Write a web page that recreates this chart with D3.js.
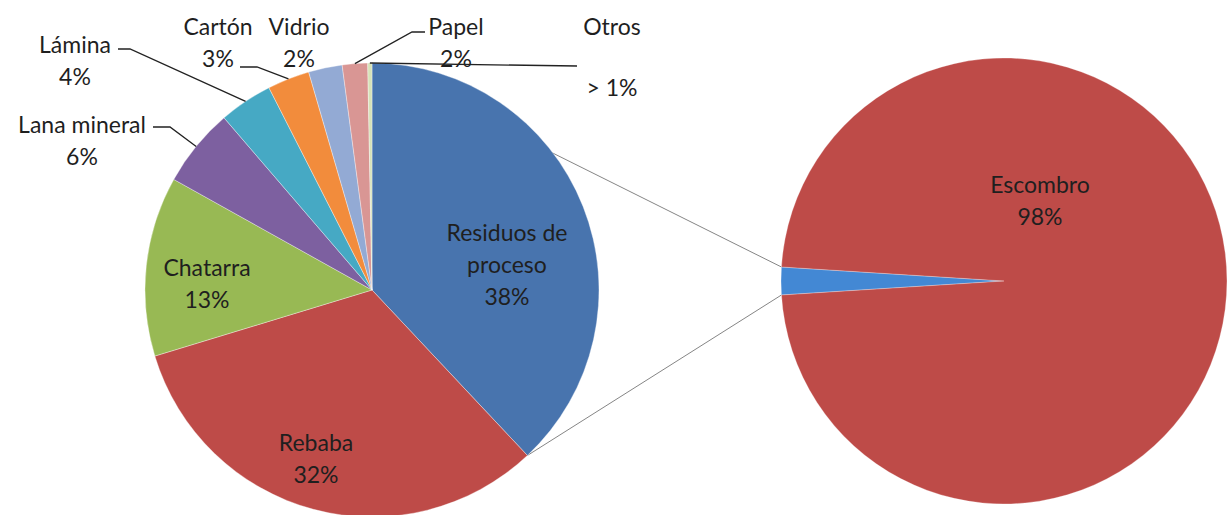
<!DOCTYPE html>
<html>
<head>
<meta charset="utf-8">
<script src="https://cdn.jsdelivr.net/npm/d3@7"></script>
<style>
    body { margin: 0; background: #fff; }
    svg { display: block; font-family: Lato, "Open Sans", sans-serif; }
</style>
</head>
<body>
<div id="chart"></div>
<script>
// main pie
const categories = ["Residuos de proceso", "Rebaba", "Chatarra", "Lana mineral", "Lámina", "Cartón", "Vidrio", "Papel", "Otros"];
const values = [38.0, 32.3, 12.8, 5.6, 3.8, 3.0, 2.4, 1.8, 0.3];
const pctLabels = ["38%", "32%", "13%", "6%", "4%", "3%", "2%", "2%", "> 1%"];

// breakdown of "Residuos de proceso"
const subCategories = ["Otro", "Escombro"];
const subValues = [2, 98];
const subLabels = ["", "98%"];

const colors = ["#4874AE", "#BE4B48", "#98B954", "#7D60A0", "#46A9C4", "#F28C3C", "#93AAD4", "#D99694", "#D6E2B8"];
const subColors = ["#4388D4", "#BE4B48"];

const width = 1228, height = 515;
const main = { cx: 372, cy: 290, r: 227 };
const sub = { cx: 1004, cy: 281, r: 223 };

const svg = d3.select("#chart").append("svg")
    .attr("width", width)
    .attr("height", height);

const data = categories.map((name, i) => ({ name, value: values[i], pct: pctLabels[i], color: colors[i] }));
const subData = subCategories.map((name, i) => ({ name, value: subValues[i], pct: subLabels[i], color: subColors[i] }));

const pie = d3.pie().sort(null).value(d => d.value);
const arcs = pie(data);

// the small slice of the second pie faces the first pie (9 o'clock)
const half = Math.PI * subValues[0] / 100;
const subPie = d3.pie().sort(null).value(d => d.value)
    .startAngle(1.5 * Math.PI - half)
    .endAngle(3.5 * Math.PI - half);
const subArcs = subPie(subData);

const arc = d3.arc().innerRadius(0).outerRadius(main.r);
const subArc = d3.arc().innerRadius(0).outerRadius(sub.r);

const polar = (c, a, r) => [c.cx + r * Math.sin(a), c.cy - r * Math.cos(a)];

// connector lines between the pies
const linked = arcs[0];
const smallSlice = subArcs[0];
const connectors = [
    [polar(main, linked.startAngle, main.r), polar(sub, smallSlice.endAngle, sub.r)],
    [polar(main, linked.endAngle, main.r), polar(sub, smallSlice.startAngle, sub.r)]
];
svg.append("g").selectAll("line")
    .data(connectors)
    .join("line")
    .attr("x1", d => d[0][0]).attr("y1", d => d[0][1])
    .attr("x2", d => d[1][0]).attr("y2", d => d[1][1])
    .attr("stroke", "#777")
    .attr("stroke-width", 0.9);

const gMain = svg.append("g").attr("transform", `translate(${main.cx},${main.cy})`);
gMain.selectAll("path")
    .data(arcs)
    .join("path")
    .attr("d", arc)
    .attr("fill", d => d.data.color)
    .attr("stroke", "#fff")
    .attr("stroke-opacity", 0.5)
    .attr("stroke-width", 0.7);

const gSub = svg.append("g").attr("transform", `translate(${sub.cx},${sub.cy})`);
gSub.selectAll("path")
    .data(subArcs)
    .join("path")
    .attr("d", subArc)
    .attr("fill", d => d.data.color)
    .attr("stroke", "#fff")
    .attr("stroke-opacity", 0.4)
    .attr("stroke-width", 0.7);

// label placement, relative to the pie centre
const lineH = 32;
const inside = {
    "Residuos de proceso": { x: 135, y: -25, lines: ["Residuos de", "proceso"] },
    "Rebaba": { x: -56, y: 169 },
    "Chatarra": { x: -165, y: -6 }
};
const outside = {
    "Lana mineral": { x: -290, y: -149, elbow: [-202, -163], end: [-219, -163] },
    "Lámina": { x: -297, y: -229, elbow: [-242, -241], end: [-254, -241] },
    "Cartón": { x: -154, y: -247, elbow: [-115, -223], end: [-132, -223] },
    "Vidrio": { x: -73, y: -247 },
    "Papel": { x: 84, y: -247, elbow: [40, -258], end: [53, -258] },
    "Otros": { x: 240, y: -233, gap: 61, elbow: [205, -224], end: [205, -224] }
};

const textColor = "#1f1f1f";
const fontSize = 23;

function addLabel(g, x, y, lines, gap) {
    const n = lines.length;
    const t = g.append("text")
        .attr("text-anchor", "middle")
        .attr("font-size", fontSize)
        .attr("fill", textColor);
    lines.forEach((s, i) => {
        t.append("tspan")
            .attr("x", x)
            .attr("y", y + (i - (n - 1) / 2) * gap)
            .attr("dy", "0.35em")
            .text(s);
    });
}

arcs.forEach(a => {
    const name = a.data.name;
    if (inside[name]) {
        const p = inside[name];
        addLabel(gMain, p.x, p.y, (p.lines || [name]).concat([a.data.pct]), lineH);
    } else if (outside[name]) {
        const p = outside[name];
        if (p.elbow) {
            const mid = (a.startAngle + a.endAngle) / 2;
            const rim = [main.r * Math.sin(mid), -main.r * Math.cos(mid)];
            gMain.append("polyline")
                .attr("points", [rim, p.elbow, p.end].map(q => q.join(",")).join(" "))
                .attr("fill", "none")
                .attr("stroke", "#222")
                .attr("stroke-width", 1.3);
        }
        addLabel(gMain, p.x, p.y, [name, a.data.pct], p.gap || lineH);
    }
});

// second pie label
const esc = subArcs[1];
addLabel(gSub, 36, -80, [esc.data.name, esc.data.pct], lineH);
</script>
</body>
</html>
